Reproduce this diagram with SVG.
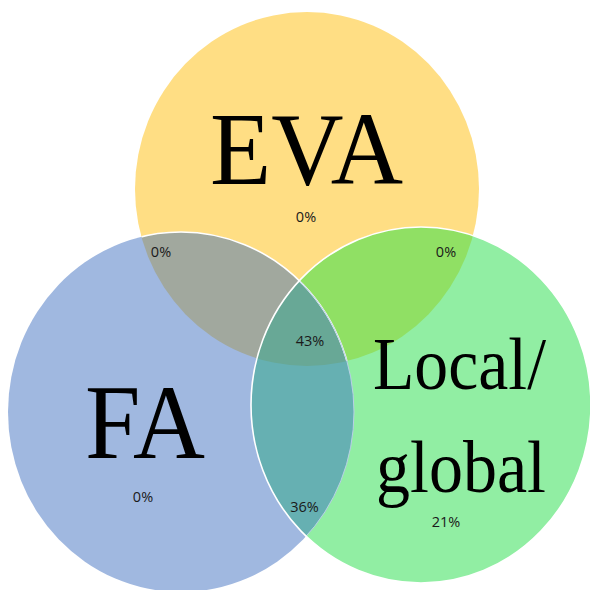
<svg xmlns="http://www.w3.org/2000/svg" width="590" height="590" viewBox="0 0 590 590">
<style>
.big{font-family:"Liberation Serif","Times New Roman",serif;fill:#000;text-anchor:middle}
.pct{font-family:"Open Sans","Liberation Sans",sans-serif;font-size:14.5px;fill:#1a1a1a;text-anchor:middle}
.edge{fill:none;stroke:#fff;stroke-width:1.6}
</style>
<defs>
<ellipse id="eva" cx="307" cy="189" rx="172" ry="177"/>
<ellipse id="fa" cx="181" cy="412" rx="173" ry="180"/>
<ellipse id="lg" cx="421" cy="405" rx="170" ry="178"/>
<clipPath id="cEva"><use href="#eva"/></clipPath>
<clipPath id="cFa"><use href="#fa"/></clipPath>
<clipPath id="cLg"><use href="#lg"/></clipPath>
</defs>
<rect width="590" height="590" fill="#fff"/>
<g id="node-eva">
<use href="#eva" fill="#FFDE84"/>
</g>
<g id="node-fa">
<use href="#fa" fill="#A0B8E0"/>
</g>
<g id="node-lg">
<use href="#lg" fill="#91EEA3"/>
</g>
<g id="overlaps">
<use href="#fa" fill="#A1A89E" clip-path="url(#cEva)"/>
<use href="#lg" fill="#90E064" clip-path="url(#cEva)"/>
<use href="#lg" fill="#66B0B2" clip-path="url(#cFa)"/>
<g clip-path="url(#cFa)"><use href="#lg" fill="#68A896" clip-path="url(#cEva)"/></g>
</g>
<g id="connectors">
<use href="#fa" class="edge" clip-path="url(#cEva)"/>
<use href="#fa" fill="none" stroke="#b8cfe6" stroke-width="1" clip-path="url(#cLg)"/>
<use href="#lg" class="edge"/>
</g>
<g id="labels">
<text class="big" x="306.5" y="184" font-size="104" textLength="193" lengthAdjust="spacingAndGlyphs">EVA</text>
<text class="big" x="145" y="458" font-size="105" textLength="120" lengthAdjust="spacingAndGlyphs">FA</text>
<text class="big" x="459.5" y="389" font-size="74" textLength="173" lengthAdjust="spacingAndGlyphs">Local/</text>
<text class="big" x="461" y="492" font-size="74" textLength="170" lengthAdjust="spacingAndGlyphs">global</text>
<text class="pct" x="306" y="222">0%</text>
<text class="pct" x="161" y="257">0%</text>
<text class="pct" x="446" y="257">0%</text>
<text class="pct" x="310" y="346">43%</text>
<text class="pct" x="143" y="502">0%</text>
<text class="pct" x="304.5" y="512">36%</text>
<text class="pct" x="446" y="527">21%</text>
</g>
</svg>
